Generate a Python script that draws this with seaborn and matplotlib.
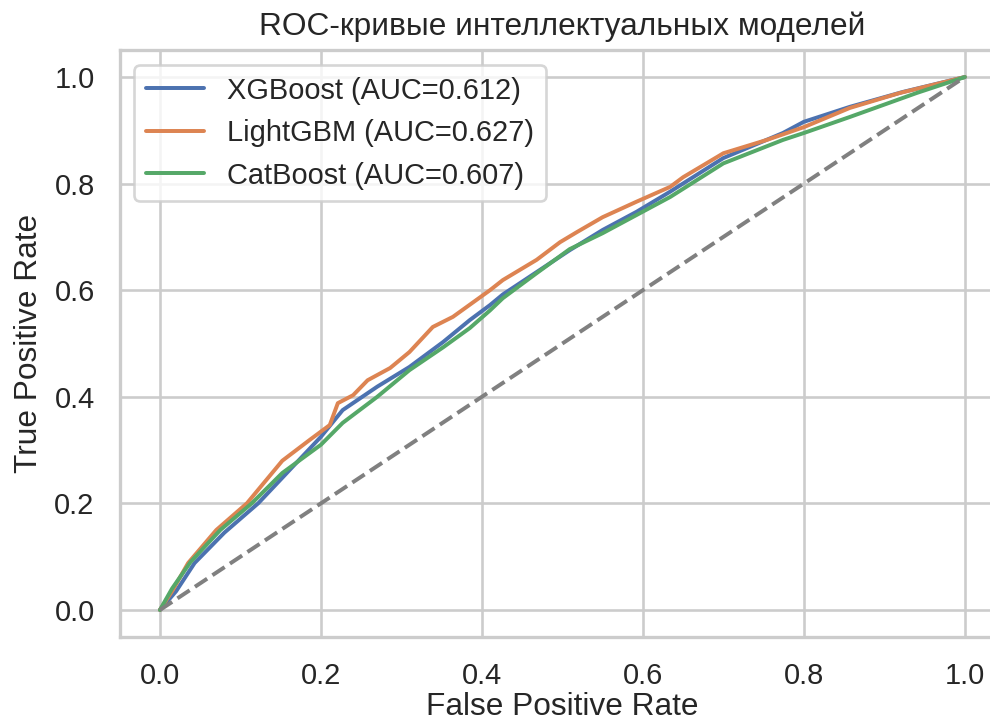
import matplotlib
matplotlib.use("Agg")
import matplotlib.pyplot as plt
import seaborn as sns

# ---- data ----
xgb_fpr = [0, 0.02, 0.043, 0.08, 0.122, 0.152, 0.2, 0.227, 0.27, 0.31, 0.352, 0.385, 0.41,
           0.426, 0.468, 0.509, 0.55, 0.592, 0.634, 0.7, 0.774, 0.8, 0.857, 0.923, 1.0]
xgb_tpr = [0, 0.035, 0.088, 0.145, 0.2, 0.248, 0.325, 0.375, 0.419, 0.456, 0.503, 0.544, 0.572,
           0.592, 0.634, 0.675, 0.713, 0.747, 0.785, 0.848, 0.895, 0.916, 0.944, 0.972, 1.0]

lgb_fpr = [0, 0.015, 0.035, 0.07, 0.108, 0.152, 0.186, 0.211, 0.221, 0.24, 0.258, 0.286, 0.31,
           0.339, 0.364, 0.41, 0.426, 0.468, 0.497, 0.518, 0.55, 0.592, 0.634, 0.65, 0.7,
           0.754, 0.8, 0.857, 0.919, 1.0]
lgb_tpr = [0, 0.035, 0.088, 0.15, 0.2, 0.28, 0.319, 0.347, 0.388, 0.403, 0.431, 0.454, 0.484,
           0.531, 0.55, 0.6, 0.619, 0.657, 0.69, 0.709, 0.737, 0.766, 0.794, 0.812, 0.857,
           0.882, 0.906, 0.942, 0.97, 1.0]

cat_fpr = [0, 0.015, 0.038, 0.075, 0.114, 0.152, 0.2, 0.227, 0.27, 0.31, 0.352, 0.385, 0.41,
           0.426, 0.468, 0.509, 0.55, 0.592, 0.634, 0.7, 0.774, 0.8, 0.857, 0.94, 1.0]
cat_tpr = [0, 0.04, 0.09, 0.15, 0.2, 0.257, 0.31, 0.351, 0.40, 0.45, 0.493, 0.529, 0.562,
           0.585, 0.632, 0.677, 0.707, 0.741, 0.775, 0.838, 0.882, 0.895, 0.925, 0.97, 1.0]

model_labels = ["XGBoost (AUC=0.612)", "LightGBM (AUC=0.627)", "CatBoost (AUC=0.607)"]
diag = [0, 1]

sns.set_theme(style="whitegrid")
plt.rcParams["font.family"] = ["Liberation Sans", "DejaVu Sans"]

DPI = 190
fig = plt.figure(figsize=(991 / DPI, 722 / DPI), dpi=DPI)
ax = fig.add_axes([0.1208, 0.1183, 0.8934, 0.8119])

pal = sns.color_palette("deep")
for fpr, tpr, lab, c in zip([xgb_fpr, lgb_fpr, cat_fpr], [xgb_tpr, lgb_tpr, cat_tpr],
                            model_labels, pal[:3]):
    sns.lineplot(x=fpr, y=tpr, ax=ax, label=lab, color=c, sort=False, estimator=None, lw=1.5)

ax.plot(diag, diag, "--", color="gray", lw=1.5)

ax.set_xlim(-0.05, 1.05)
ax.set_ylim(-0.05, 1.05)
ax.set_xticks([0, 0.2, 0.4, 0.6, 0.8, 1.0])
ax.set_yticks([0, 0.2, 0.4, 0.6, 0.8, 1.0])
ax.set_xlabel("False Positive Rate", labelpad=1)
ax.set_ylabel("True Positive Rate")
ax.set_title("ROC-кривые интеллектуальных моделей")
ax.legend(loc="upper left")

fig.savefig("out.png", dpi=DPI)
